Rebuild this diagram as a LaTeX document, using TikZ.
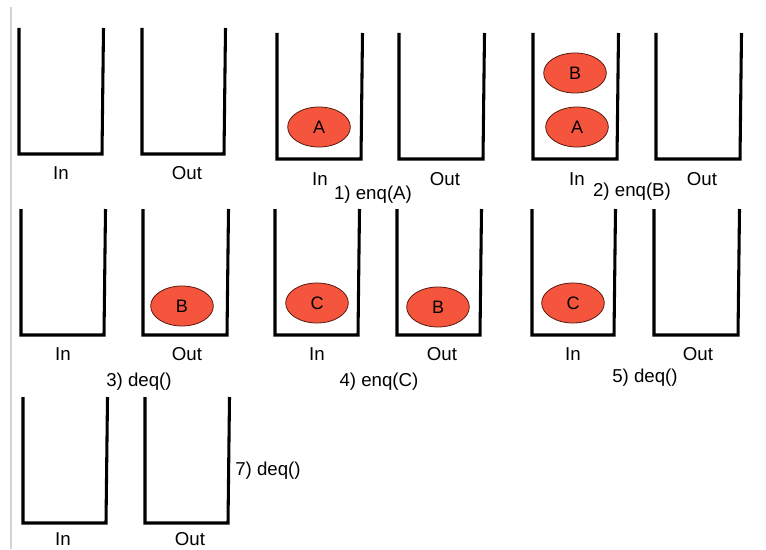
\documentclass[tikz,border=0pt]{standalone}
\usepackage{fontspec}
\setmainfont{Liberation Sans}
\usetikzlibrary{shapes.geometric}

\definecolor{ballfill}{HTML}{F5553C}
\definecolor{balledge}{HTML}{5A1A10}
\definecolor{railgray}{HTML}{D4D4D4}

% \bucket{name}{left}{top}{right}{bottom}: an open-topped container, coordinates in px
\newcommand\bucket[5]{%
  \coordinate (#1-tl) at (#2,#3);
  \coordinate (#1-bl) at (#2,#5);
  \coordinate (#1-br) at (#4,#5);
  \coordinate (#1-tr) at (#4+1.5,#3);
  \draw[binline] (#1-tl) -- (#1-bl) -- (#1-br) -- (#1-tr);
}

\begin{document}
\begin{tikzpicture}[x=0.75pt,y=-0.75pt,
  binline/.style={line width=2.3pt,line join=miter},
  ball/.style={ellipse,draw=balledge,line width=0.6pt,fill=ballfill,
    minimum width=47pt,minimum height=30pt,inner sep=0pt,
    font=\fontsize{13.5}{15}\selectfont},
  tag/.style={inner sep=0pt,font=\fontsize{14}{16}\selectfont},
  steplabel/.style={inner sep=0pt,font=\fontsize{14}{16}\selectfont}]

\useasboundingbox (0,0) rectangle (766,549);
\fill[white] (0,0) rectangle (766,549);

% thin rule on the left edge
\coordinate (ruleT) at (11,7);
\coordinate (ruleB) at (11,549);
\draw[railgray,line width=1.2pt] (ruleT) -- (ruleB);

% initial state
\bucket{i0}{19}{28}{102}{154}
\bucket{o0}{142}{28}{224}{154}
\node[tag] (li0) at (61,173) {In};
\node[tag] (lo0) at (187,173) {Out};

% 1) enq(A)
\bucket{i1}{277}{33}{361}{159}
\bucket{o1}{399}{33}{483}{159}
\node[ball] (a1) at (319,127) {A};
\node[tag] (li1) at (320,179) {In};
\node[tag] (lo1) at (445,179) {Out};
\node[steplabel] (s1) at (373,195) {1) enq(A)};

% 2) enq(B)
\bucket{i2}{533}{33}{617}{159}
\bucket{o2}{656}{33}{740}{159}
\node[ball] (b2) at (575,73) {B};
\node[ball] (a2) at (577,127) {A};
\node[tag] (li2) at (577,179) {In};
\node[tag] (lo2) at (702,179) {Out};
\node[steplabel] (s2) at (632,192) {2) enq(B)};

% 3) deq()
\bucket{i3}{21}{209}{104}{335}
\bucket{o3}{143}{209}{227}{335}
\node[ball] (b3) at (182,306) {B};
\node[tag] (li3) at (63,354) {In};
\node[tag] (lo3) at (187,354) {Out};
\node[steplabel] (s3) at (139,382) {3) deq()};

% 4) enq(C)
\bucket{i4}{275}{209}{358}{335}
\bucket{o4}{397}{209}{480}{335}
\node[ball] (c4) at (317,303) {C};
\node[ball] (b4) at (438,307) {B};
\node[tag] (li4) at (317,354) {In};
\node[tag] (lo4) at (442,354) {Out};
\node[steplabel] (s4) at (379,382) {4) enq(C)};

% 5) deq()
\bucket{i5}{532}{209}{614}{335}
\bucket{o5}{654}{209}{738}{335}
\node[ball] (c5) at (573,303) {C};
\node[tag] (li5) at (573,354) {In};
\node[tag] (lo5) at (698,354) {Out};
\node[steplabel] (s5) at (645,378) {5) deq()};

% 7) deq()
\bucket{i7}{23}{397}{106}{523}
\bucket{o7}{145}{397}{228}{523}
\node[tag] (li7) at (63,539) {In};
\node[tag] (lo7) at (190,539) {Out};
\node[steplabel] (s7) at (268,471) {7) deq()};

\end{tikzpicture}
\end{document}
